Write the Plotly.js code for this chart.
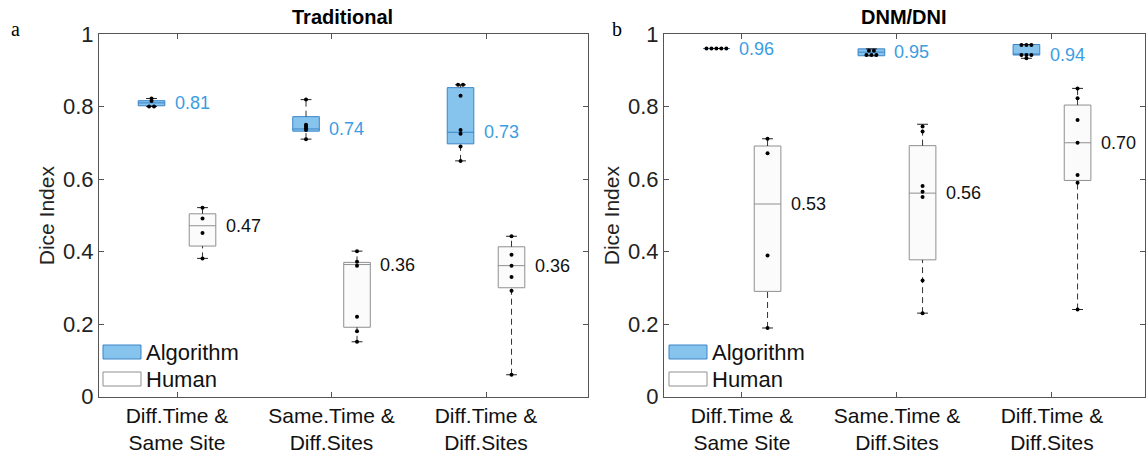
<!DOCTYPE html>
<html><head><meta charset="utf-8">
<script src="https://cdn.plot.ly/plotly-3.0.1.min.js"></script>
<style>html,body{margin:0;padding:0;background:#fff}#chart{width:1146px;height:456px}</style>
</head><body><div id="chart"></div>
<script>
const categories = ['Diff.Time &<br>Same Site', 'Same.Time &<br>Diff.Sites', 'Diff.Time &<br>Diff.Sites'];
const groupNames = ['Algorithm', 'Human'];
const panelTitles = ['Traditional', 'DNM/DNI'];
const panelLetters = ['a', 'b'];
const yTickVals = [0, 0.2, 0.4, 0.6, 0.8, 1];
const yTickText = ['0', '0.2', '0.4', '0.6', '0.8', '1'];

// Panel a: Traditional
const tradAlgQ1  = [0.802, 0.732, 0.697];
const tradAlgMed = [0.810, 0.738, 0.729];
const tradAlgQ3  = [0.816, 0.772, 0.852];
const tradAlgLo  = [0.800, 0.710, 0.650];
const tradAlgHi  = [0.822, 0.819, 0.860];
const tradAlgPts = [[0.800, 0.800, 0.815, 0.822], [0.710, 0.735, 0.740, 0.745, 0.750, 0.819], [0.650, 0.690, 0.725, 0.735, 0.830, 0.860, 0.860]];
const tradAlgLabels = ['0.81', '0.74', '0.73'];

const tradHumQ1  = [0.415, 0.191, 0.300];
const tradHumMed = [0.471, 0.364, 0.361];
const tradHumQ3  = [0.504, 0.370, 0.413];
const tradHumLo  = [0.381, 0.151, 0.060];
const tradHumHi  = [0.521, 0.401, 0.442];
const tradHumPts = [[0.381, 0.451, 0.491, 0.521], [0.151, 0.180, 0.220, 0.361, 0.372, 0.401], [0.060, 0.292, 0.330, 0.361, 0.391, 0.442]];
const tradHumLabels = ['0.47', '0.36', '0.36'];

// Panel b: DNM/DNI
const dnmAlgQ1  = [0.960, 0.940, 0.942];
const dnmAlgMed = [0.960, 0.950, 0.942];
const dnmAlgQ3  = [0.960, 0.959, 0.971];
const dnmAlgLo  = [0.960, 0.940, 0.933];
const dnmAlgHi  = [0.960, 0.959, 0.971];
const dnmAlgPts = [[0.960, 0.960, 0.960, 0.960, 0.960], [0.942, 0.942, 0.942, 0.954, 0.954], [0.933, 0.942, 0.942, 0.942, 0.970, 0.970, 0.970]];
const dnmAlgLabels = ['0.96', '0.95', '0.94'];

const dnmHumQ1  = [0.290, 0.377, 0.596];
const dnmHumMed = [0.531, 0.561, 0.700];
const dnmHumQ3  = [0.691, 0.692, 0.804];
const dnmHumLo  = [0.189, 0.230, 0.240];
const dnmHumHi  = [0.711, 0.751, 0.850];
const dnmHumPts = [[0.189, 0.389, 0.671, 0.711], [0.230, 0.320, 0.550, 0.565, 0.581, 0.731, 0.745], [0.240, 0.590, 0.611, 0.700, 0.763, 0.823, 0.850]];
const dnmHumLabels = ['0.53', '0.56', '0.70'];

// ---- styling ----
const W = 1146, H = 456;
const FONT = 'Arial, "Liberation Sans", Helvetica, sans-serif';
const ALG_FILL = '#86c4ee', ALG_LINE = '#3a84c6', ALG_TEXT = '#3b9de2';
const HUM_FILL = '#fbfbfb', HUM_LINE = '#8f8f8f', HUM_TEXT = '#111';
const OFFSET = 0.165, BOXW = 0.172, CAP = 0.035, DUPSP = 0.032;
const px = v => v / W;
const py = v => 1 - v / H;

const traces = [];
const annotations = [];
const shapes = [];

function addGroup(xa, ya, sign, q1, med, q3, lo, hi, pts, labels, fill, line, textColor) {
  const xs = [1, 2, 3].map(c => c + sign * OFFSET);
  // whiskers (dashed) and caps
  const wx = [], wy = [], cx = [], cy = [];
  xs.forEach((x, i) => {
    wx.push(x, x, null, x, x, null);
    wy.push(lo[i], q1[i], null, q3[i], hi[i], null);
    cx.push(x - CAP, x + CAP, null, x - CAP, x + CAP, null);
    cy.push(lo[i], lo[i], null, hi[i], hi[i], null);
  });
  traces.push({type: 'scatter', mode: 'lines', x: wx, y: wy, xaxis: xa, yaxis: ya,
    line: {color: '#333', width: 1, dash: '6px,4px'}, hoverinfo: 'skip', showlegend: false});
  traces.push({type: 'scatter', mode: 'lines', x: cx, y: cy, xaxis: xa, yaxis: ya,
    line: {color: '#222', width: 1}, hoverinfo: 'skip', showlegend: false});
  traces.push({type: 'box', x: xs, q1: q1, median: med, q3: q3, lowerfence: q1, upperfence: q3,
    width: BOXW, whiskerwidth: 0, boxpoints: false, fillcolor: fill,
    line: {color: line, width: 1}, xaxis: xa, yaxis: ya, hoverinfo: 'skip', showlegend: false});
  // points: equal values spread side by side
  const pxs = [], pys = [];
  pts.forEach((arr, i) => {
    const groups = [];
    arr.forEach(v => {
      let g = groups.find(g => Math.abs(g.v - v) < 0.004);
      if (g) g.n++; else groups.push({v: v, n: 1});
    });
    groups.forEach(g => {
      for (let k = 0; k < g.n; k++) {
        pxs.push(xs[i] + (k - (g.n - 1) / 2) * DUPSP);
        pys.push(g.v);
      }
    });
  });
  traces.push({type: 'scatter', mode: 'markers', x: pxs, y: pys, xaxis: xa, yaxis: ya,
    marker: {color: '#000', size: 4}, hoverinfo: 'skip', showlegend: false});
  xs.forEach((x, i) => {
    annotations.push({xref: xa, yref: ya, x: x + BOXW / 2 + 0.05, y: med[i], text: labels[i],
      xanchor: 'left', yanchor: 'middle', showarrow: false,
      font: {family: FONT, size: 18, color: textColor}});
  });
}

addGroup('x', 'y', -1, tradAlgQ1, tradAlgMed, tradAlgQ3, tradAlgLo, tradAlgHi, tradAlgPts, tradAlgLabels, ALG_FILL, ALG_LINE, ALG_TEXT);
addGroup('x', 'y', 1, tradHumQ1, tradHumMed, tradHumQ3, tradHumLo, tradHumHi, tradHumPts, tradHumLabels, HUM_FILL, HUM_LINE, HUM_TEXT);
addGroup('x2', 'y2', -1, dnmAlgQ1, dnmAlgMed, dnmAlgQ3, dnmAlgLo, dnmAlgHi, dnmAlgPts, dnmAlgLabels, ALG_FILL, ALG_LINE, ALG_TEXT);
addGroup('x2', 'y2', 1, dnmHumQ1, dnmHumMed, dnmHumQ3, dnmHumLo, dnmHumHi, dnmHumPts, dnmHumLabels, HUM_FILL, HUM_LINE, HUM_TEXT);

// panel geometry in pixels
const panels = [
  {left: 99, right: 588, range: [0.495, 3.66], titleX: 343, letterX: 15, yTitleX: 46},
  {left: 664, right: 1145, range: [0.497, 3.6], titleX: 904, letterX: 617, yTitleX: 611}
];
const TOP = 34, BOTTOM = 396.5;

panels.forEach((p, i) => {
  annotations.push({xref: 'paper', yref: 'paper', x: px(p.titleX), y: py(17), text: '<b>' + panelTitles[i] + '</b>',
    showarrow: false, xanchor: 'center', yanchor: 'middle', font: {family: FONT, size: 20, color: '#000'}});
  annotations.push({xref: 'paper', yref: 'paper', x: px(p.letterX), y: py(29), text: panelLetters[i],
    showarrow: false, xanchor: 'center', yanchor: 'middle', font: {family: '"Liberation Serif", "DejaVu Serif", serif', size: 20, color: '#000'}});
  annotations.push({xref: 'paper', yref: 'paper', x: px(p.yTitleX), y: py((TOP + BOTTOM) / 2), text: 'Dice Index',
    textangle: -90, showarrow: false, xanchor: 'center', yanchor: 'middle', font: {family: FONT, size: 21, color: '#222'}});
  // legend
  const lx0 = p.left + (i === 0 ? 4 : 5), lx1 = lx0 + 38;
  shapes.push({type: 'rect', xref: 'paper', yref: 'paper', x0: px(lx0), x1: px(lx1), y0: py(359), y1: py(345),
    fillcolor: ALG_FILL, line: {color: ALG_LINE, width: 1}});
  shapes.push({type: 'rect', xref: 'paper', yref: 'paper', x0: px(lx0), x1: px(lx1), y0: py(386), y1: py(372),
    fillcolor: '#fff', line: {color: HUM_LINE, width: 1}});
  annotations.push({xref: 'paper', yref: 'paper', x: px(lx1 + 3), y: py(352), text: groupNames[0],
    showarrow: false, xanchor: 'left', yanchor: 'middle', font: {family: FONT, size: 22, color: '#111'}});
  annotations.push({xref: 'paper', yref: 'paper', x: px(lx1 + 3), y: py(379), text: groupNames[1],
    showarrow: false, xanchor: 'left', yanchor: 'middle', font: {family: FONT, size: 22, color: '#111'}});
});

function xAxis(p, anchor) {
  return {domain: [px(p.left), px(p.right)], range: p.range, anchor: anchor,
    tickvals: [1, 2, 3], ticktext: categories, ticks: 'inside', ticklen: 5, tickcolor: '#555',
    showline: true, linecolor: '#555', linewidth: 1, mirror: 'ticks', showgrid: false, zeroline: false,
    tickfont: {family: FONT, size: 21, color: '#111'}, fixedrange: true};
}
function yAxis(anchor) {
  return {domain: [py(BOTTOM), py(TOP)], range: [0, 1], anchor: anchor,
    tickvals: yTickVals, ticktext: yTickText, ticks: 'inside', ticklen: 5, tickcolor: '#555',
    showline: true, linecolor: '#555', linewidth: 1, mirror: 'ticks', showgrid: false, zeroline: false,
    tickfont: {family: FONT, size: 22, color: '#222'}, fixedrange: true};
}

const layout = {
  width: W, height: H, margin: {l: 0, r: 0, t: 0, b: 0},
  paper_bgcolor: '#fff', plot_bgcolor: '#fff', showlegend: false, boxmode: 'overlay',
  xaxis: xAxis(panels[0], 'y'), yaxis: yAxis('x'),
  xaxis2: xAxis(panels[1], 'y2'), yaxis2: yAxis('x2'),
  annotations: annotations, shapes: shapes
};

Plotly.newPlot('chart', traces, layout, {displayModeBar: false, staticPlot: true});
</script></body></html>
